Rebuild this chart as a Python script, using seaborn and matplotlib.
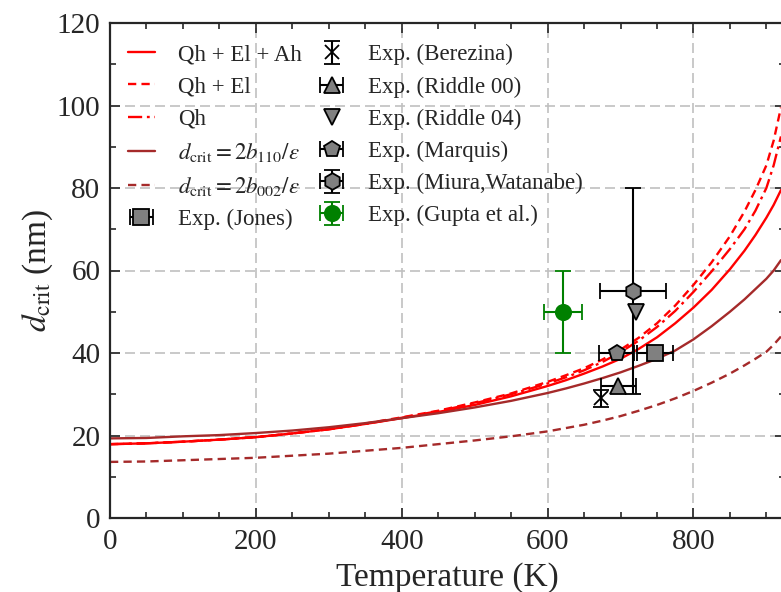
import seaborn as sns
import matplotlib.pyplot as plt
import numpy as np

# Model curves
temp = [0, 50, 100, 150, 200, 250, 300, 350, 400, 450, 500, 550, 600, 625, 650, 675,
        700, 725, 750, 775, 800, 825, 850, 870, 885, 900, 910, 920]
qh_el_ah = [17.9, 18.1, 18.5, 19.0, 19.6, 20.5, 21.5, 22.8, 24.2, 25.7, 27.4, 29.5, 32.0, 33.4,
            35.0, 36.7, 38.6, 41.0, 43.8, 47.2, 51.0, 55.3, 60.3, 64.8, 68.6, 72.8, 75.9, 79.5]
qh_el = [17.9, 18.1, 18.5, 19.0, 19.6, 20.5, 21.6, 22.9, 24.4, 26.0, 28.0, 30.2, 33.0, 34.6,
         36.3, 38.4, 40.8, 43.7, 47.2, 51.5, 56.5, 62.0, 68.3, 74.3, 79.5, 85.5, 91.5, 99.5]
qh = [17.9, 18.1, 18.5, 19.0, 19.6, 20.5, 21.5, 22.8, 24.3, 25.9, 27.8, 30.0, 32.6, 34.1,
      35.8, 37.8, 40.2, 43.0, 46.3, 50.2, 54.8, 59.8, 65.2, 70.0, 74.5, 80.0, 85.5, 92.5]
d_110 = [19.3, 19.4, 19.8, 20.1, 20.6, 21.2, 22.0, 23.0, 24.2, 25.4, 26.8, 28.4, 30.3, 31.4,
         32.6, 33.9, 35.3, 36.9, 38.6, 40.6, 43.3, 46.5, 50.0, 53.0, 55.5, 58.0, 60.0, 62.5]
d_002 = [13.6, 13.7, 14.0, 14.3, 14.6, 15.1, 15.6, 16.3, 17.0, 17.9, 18.8, 19.8, 21.0, 21.8,
         22.6, 23.6, 24.7, 26.0, 27.4, 29.0, 30.8, 32.8, 35.0, 37.0, 38.6, 40.3, 42.0, 44.0]

# Experimental points: T, d, T error, d error
jones = (747, 40, 25, None)
berezina = (673, 29, None, 2)
riddle00 = (697, 32, 24, None)
riddle04 = (721, 50, None, None)
marquis = (695, 40, 24, None)
miura = (717, 55, 45, 25)
gupta = (621, 50, 26, 10)

sns.set_style("ticks")
plt.rcParams["font.family"] = ["Liberation Serif", "DejaVu Serif"]
plt.rcParams["mathtext.fontset"] = "stix"
plt.rcParams["xtick.direction"] = "in"
plt.rcParams["ytick.direction"] = "in"

fig = plt.figure(figsize=(7.81, 5.92), dpi=100)
ax = fig.add_axes([110 / 781, 1 - 518 / 592, 925 * 0.7293 / 781, 495 / 592])

red = "#ff0000"
brown = "#a52a2a"
sns.lineplot(x=temp, y=qh_el_ah, color=red, lw=1.7, label="Qh + El + Ah", ax=ax)
sns.lineplot(x=temp, y=qh_el, color=red, lw=1.7, linestyle=(0, (3.5, 2.2)), label="Qh + El", ax=ax)
sns.lineplot(x=temp, y=qh, color=red, lw=1.7, linestyle=(0, (6, 2, 1.2, 2)), label="Qh", ax=ax)
sns.lineplot(x=temp, y=d_110, color=brown, lw=1.7, label=r"$d_{\rm crit} = 2b_{110}/\varepsilon$", ax=ax)
sns.lineplot(x=temp, y=d_002, color=brown, lw=1.7, linestyle=(0, (3.5, 2.2)),
             label=r"$d_{\rm crit} = 2b_{002}/\varepsilon$", ax=ax)

gray = "#808080"
pts = [
    (jones, "s", 11, gray, "k", "Exp. (Jones)", 2.5),
    (berezina, "x", 10, "k", "k", "Exp. (Berezina)", 2.5),
    (riddle00, "^", 12, gray, "k", "Exp. (Riddle 00)", 1.8),
    (riddle04, "v", 12, gray, "k", "Exp. (Riddle 04)", 1.8),
    (marquis, "p", 12, gray, "k", "Exp. (Marquis)", 1.8),
    (miura, "h", 12, gray, "k", "Exp. (Miura,Watanabe)", 1.8),
    (gupta, "o", 11, "green", "green", "Exp. (Gupta et al.)", 1.5),
]
for (t, d, te, de), mk, ms, fc, ec, lab, ct in pts:
    ax.errorbar(t, d, xerr=te, yerr=de, fmt=mk, ms=ms, mfc=fc, mec=ec, mew=1.3,
                ecolor=ec, elinewidth=1.5, capsize=5.5, capthick=ct, label=lab, zorder=3)

ax.set_xlim(0, 925)
ax.set_ylim(0, 120)
ax.set_xticks([0, 200, 400, 600, 800])
ax.set_xticks(np.arange(0, 925, 50), minor=True)
ax.set_yticks(np.arange(0, 121, 20))
ax.set_yticks(np.arange(0, 121, 10), minor=True)
ax.tick_params(which="both", top=True, right=True, width=1.2, labelsize=21)
ax.tick_params(which="major", length=7)
ax.tick_params(which="minor", length=4)
ax.tick_params(axis="x", which="major", pad=8)
ax.tick_params(axis="y", which="major", pad=7)
for s in ax.spines.values():
    s.set_linewidth(1.6)
ax.grid(True, which="major", color="#c0c0c0", linestyle=(0, (6, 3)), linewidth=1.2)
ax.set_axisbelow(True)

ax.set_xlabel("Temperature (K)", fontsize=24, labelpad=5)
ax.set_ylabel(r"$d_{\rm crit}$ (nm)", fontsize=24, labelpad=1)

handles, labels = ax.get_legend_handles_labels()
ax.legend(handles, labels, ncol=2, loc="upper left", bbox_to_anchor=(0.026, 0.957),
          frameon=False, fontsize=16.5, handlelength=1.2, handletextpad=1.0,
          columnspacing=0.7, labelspacing=0.48, borderaxespad=0, borderpad=0)

fig.savefig("out.png", dpi=100)
